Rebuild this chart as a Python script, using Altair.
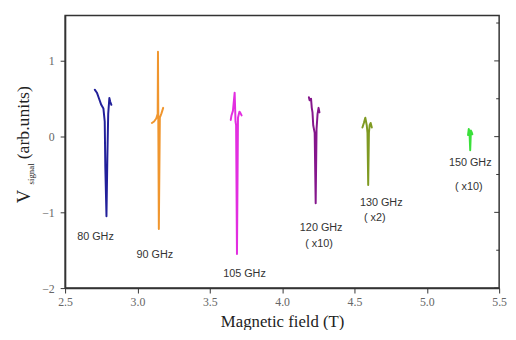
import altair as alt
import pandas as pd

# ---- data ----
series = ["80 GHz", "90 GHz", "105 GHz", "120 GHz", "130 GHz", "150 GHz"]
colors = ["#22209a", "#f0962e", "#e22ee0", "#85168c", "#7f9a22", "#3ae03a"]

x80 = [2.705, 2.72, 2.735, 2.75, 2.765, 2.774, 2.778, 2.786, 2.792, 2.798, 2.806, 2.812, 2.82]
y80 = [0.62, 0.58, 0.50, 0.42, 0.37, 0.20, -0.40, -1.05, -0.30, 0.30, 0.51, 0.46, 0.42]

x90 = [3.10, 3.115, 3.13, 3.14, 3.142, 3.148, 3.155, 3.165, 3.178]
y90 = [0.18, 0.20, 0.24, 0.30, 1.12, -1.22, 0.25, 0.30, 0.38]

x105 = [3.645, 3.65, 3.66, 3.672, 3.678, 3.682, 3.688, 3.695, 3.705, 3.712, 3.72]
y105 = [0.22, 0.28, 0.34, 0.58, 0.20, 0.15, -1.55, 0.25, 0.33, 0.31, 0.28]

x120 = [4.185, 4.19, 4.20, 4.205, 4.21, 4.215, 4.225, 4.232, 4.238, 4.245, 4.252, 4.258]
y120 = [0.52, 0.48, 0.50, 0.38, 0.32, 0.15, 0.05, -0.88, 0.10, 0.30, 0.38, 0.32]

x130 = [4.555, 4.565, 4.575, 4.585, 4.59, 4.595, 4.60, 4.605, 4.612, 4.62]
y130 = [0.12, 0.18, 0.25, 0.15, 0.05, -0.64, 0.05, 0.15, 0.18, 0.12]

x150 = [5.285, 5.29, 5.295, 5.30, 5.305, 5.31, 5.315]
y150 = [0.02, 0.10, 0.06, -0.18, 0.08, 0.06, 0.03]

label_text = ["80 GHz", "90 GHz", "105 GHz", "120 GHz", "( x10)", "130 GHz", "( x2)", "150 GHz", "( x10)"]
label_x = [2.71, 3.12, 3.74, 4.27, 4.255, 4.685, 4.64, 5.30, 5.29]
label_y = [-1.32, -1.57, -1.82, -1.21, -1.42, -0.88, -1.08, -0.35, -0.66]

x_ticks = [2.5, 2.75, 3.0, 3.25, 3.5, 3.75, 4.0, 4.25, 4.5, 4.75, 5.0, 5.25, 5.5]
y_ticks = [-2, -1.5, -1, -0.5, 0, 0.5, 1, 1.5]

# ---- build table ----
xs = [x80, x90, x105, x120, x130, x150]
ys = [y80, y90, y105, y120, y130, y150]
rows = []
for name, xv, yv in zip(series, xs, ys):
    for i, (a, b) in enumerate(zip(xv, yv)):
        rows.append({"series": name, "field": a, "v": b, "i": i})
df = pd.DataFrame(rows)
labels = pd.DataFrame({"t": label_text, "field": label_x, "v": label_y})
rticks = pd.DataFrame({"v": y_ticks})

serif = "Liberation Serif"
sans = "Liberation Sans"

major_test = "abs(datum.value*2 - round(datum.value*2)) < 0.001"
major_y = "abs(datum.value - round(datum.value)) < 0.001"

xscale = alt.Scale(domain=[2.5, 5.5], nice=False, zero=False)
yscale = alt.Scale(domain=[-2, 1.6], nice=False, zero=False)

xaxis = alt.Axis(
    values=x_ticks,
    labelExpr=f"{major_test} ? format(datum.value, '.1f') : ''",
    title="Magnetic field (T)",
    titleFont=serif, titleFontSize=17, titleFontWeight="normal", titleColor="#222",
    titlePadding=6,
    labelFont=serif, labelFontSize=12, labelColor="#666", labelPadding=4,
    tickSize={"condition": {"test": major_test, "value": 5}, "value": 3},
    grid=False, domainColor="#333", tickColor="#333", domainWidth=1.5,
    labelFlush=False, labelOverlap=False,
)
yaxis = alt.Axis(
    values=y_ticks,
    labelExpr=f"{major_y} ? format(datum.value, 'd') : ''",
    title=None,
    labelFont=serif, labelFontSize=12, labelColor="#666", labelPadding=6,
    tickSize={"condition": {"test": major_y, "value": 5}, "value": 3},
    grid=False, domainColor="#333", tickColor="#333", domainWidth=1.5,
    labelFlush=False, labelOverlap=False,
)

lines = alt.Chart(df).mark_line(strokeWidth=2, strokeJoin="round", strokeCap="round").encode(
    x=alt.X("field:Q", scale=xscale, axis=xaxis),
    y=alt.Y("v:Q", scale=yscale, axis=yaxis),
    color=alt.Color("series:N", scale=alt.Scale(domain=series, range=colors), legend=None),
    detail="series:N",
    order="i:Q",
)

# inward ticks on the right frame edge
rt_base = alt.Chart(rticks).mark_rule(color="#333", strokeWidth=1)
right_major = rt_base.transform_filter("abs(datum.v - round(datum.v)) < 0.001").encode(
    y=alt.Y("v:Q", scale=yscale), x=alt.value(441), x2=alt.value(436))
right_minor = rt_base.transform_filter("abs(datum.v - round(datum.v)) >= 0.001").encode(
    y=alt.Y("v:Q", scale=yscale), x=alt.value(441), x2=alt.value(438))

texts = alt.Chart(labels).mark_text(font=sans, fontSize=11, color="#333").encode(
    x=alt.X("field:Q", scale=xscale),
    y=alt.Y("v:Q", scale=yscale),
    text="t:N",
)

ytitle_v = alt.Chart(pd.DataFrame({"t": ["V"]})).mark_text(
    font=serif, fontSize=19, angle=270, color="#222", align="center", baseline="middle"
).encode(x=alt.value(-42), y=alt.value(184), text="t:N")
ysub = alt.Chart(pd.DataFrame({"t": ["signal"]})).mark_text(
    font=serif, fontSize=9, angle=270, color="#222", align="center", baseline="middle"
).encode(x=alt.value(-35), y=alt.value(161), text="t:N")
yunits = alt.Chart(pd.DataFrame({"t": ["(arb.units)"]})).mark_text(
    font=serif, fontSize=18, angle=270, color="#222", align="center", baseline="middle"
).encode(x=alt.value(-42), y=alt.value(109), text="t:N")

chart = alt.layer(lines, right_major, right_minor, texts, ytitle_v, ysub, yunits).properties(
    width=441, height=277,
    background="white",
    autosize=alt.AutoSizeParams(type="none"),
    padding={"left": 58, "top": 5, "right": 9, "bottom": 40},
).configure_view(stroke="#333", strokeWidth=1.5)

chart.save("out.html", embed_options={"renderer": "svg", "actions": False})
